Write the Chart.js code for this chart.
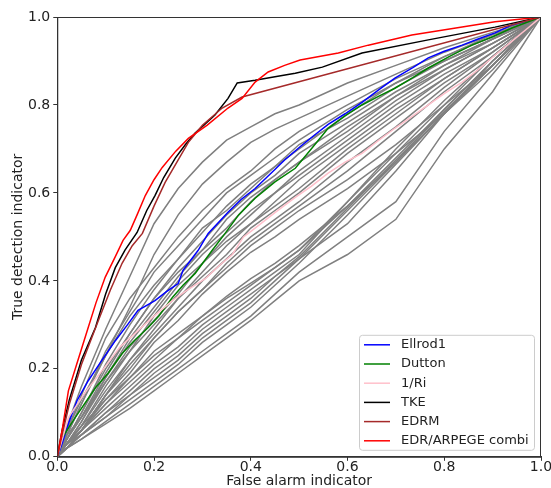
<!DOCTYPE html>
<html>
<head>
<meta charset="utf-8">
<script src="https://cdn.jsdelivr.net/npm/chart.js@4.4.1/dist/chart.umd.min.js"></script>
<style>
  body { margin: 0; background: #fff; }
  #wrap { width: 551px; height: 488px; }
</style>
</head>
<body>
<div id="wrap"><canvas id="roc" width="551" height="488"></canvas></div>
<script>
// false alarm grid shared by the grey curves
const fpr = [0, 0.02, 0.05, 0.1, 0.15, 0.2, 0.25, 0.3, 0.35, 0.4, 0.45, 0.5, 0.6, 0.7, 0.8, 0.9, 1];

// grey curves (true detection values on the fpr grid)
const greyA1 = [0, 0.07, 0.16, 0.29, 0.41, 0.53, 0.61, 0.67, 0.72, 0.75, 0.78, 0.80, 0.85, 0.89, 0.93, 0.965, 1];
const greyA2 = [0, 0.05, 0.12, 0.23, 0.34, 0.46, 0.55, 0.62, 0.67, 0.715, 0.745, 0.77, 0.82, 0.87, 0.92, 0.96, 1];
const greyB1 = [0, 0.06, 0.14, 0.27, 0.36, 0.43, 0.50, 0.56, 0.61, 0.65, 0.70, 0.74, 0.80, 0.86, 0.91, 0.96, 1];
const greyB2 = [0, 0.05, 0.12, 0.24, 0.33, 0.42, 0.48, 0.54, 0.60, 0.64, 0.68, 0.72, 0.79, 0.85, 0.91, 0.955, 1];
const greyB3 = [0, 0.06, 0.13, 0.23, 0.32, 0.39, 0.45, 0.51, 0.57, 0.62, 0.66, 0.70, 0.78, 0.85, 0.90, 0.95, 1];
const greyB4 = [0, 0.04, 0.10, 0.21, 0.30, 0.38, 0.45, 0.52, 0.56, 0.61, 0.66, 0.71, 0.77, 0.84, 0.90, 0.95, 1];
const greyB5 = [0, 0.04, 0.10, 0.20, 0.28, 0.36, 0.43, 0.49, 0.55, 0.60, 0.64, 0.69, 0.76, 0.83, 0.89, 0.95, 1];
const greyB6 = [0, 0.05, 0.09, 0.19, 0.28, 0.36, 0.42, 0.47, 0.54, 0.59, 0.63, 0.67, 0.75, 0.82, 0.89, 0.94, 1];
const greyB7 = [0, 0.04, 0.09, 0.18, 0.27, 0.34, 0.41, 0.47, 0.52, 0.58, 0.63, 0.67, 0.74, 0.82, 0.88, 0.94, 1];
const greyB8 = [0, 0.03, 0.08, 0.18, 0.26, 0.33, 0.40, 0.46, 0.51, 0.56, 0.60, 0.65, 0.73, 0.81, 0.88, 0.94, 1];
const greyB9 = [0, 0.03, 0.08, 0.17, 0.24, 0.32, 0.39, 0.44, 0.50, 0.55, 0.60, 0.64, 0.72, 0.80, 0.87, 0.93, 1];
const greyB10 = [0, 0.04, 0.09, 0.17, 0.25, 0.31, 0.37, 0.44, 0.49, 0.53, 0.58, 0.63, 0.71, 0.79, 0.86, 0.93, 1];
const greyB11 = [0, 0.03, 0.07, 0.16, 0.24, 0.30, 0.36, 0.42, 0.48, 0.53, 0.57, 0.61, 0.70, 0.78, 0.86, 0.93, 1];
const greyB12 = [0, 0.02, 0.06, 0.14, 0.22, 0.29, 0.36, 0.41, 0.46, 0.52, 0.56, 0.60, 0.69, 0.77, 0.85, 0.92, 1];
const greyB13 = [0, 0.03, 0.07, 0.15, 0.22, 0.28, 0.34, 0.40, 0.45, 0.50, 0.54, 0.58, 0.67, 0.75, 0.84, 0.92, 1];
const greyB14 = [0, 0.03, 0.06, 0.14, 0.21, 0.27, 0.33, 0.38, 0.44, 0.49, 0.53, 0.57, 0.65, 0.74, 0.83, 0.91, 1];
const greyB15 = [0, 0.03, 0.06, 0.14, 0.20, 0.27, 0.33, 0.38, 0.43, 0.48, 0.52, 0.56, 0.63, 0.71, 0.80, 0.89, 1];
const greyB16 = [0, 0.02, 0.06, 0.13, 0.19, 0.26, 0.31, 0.37, 0.42, 0.465, 0.50, 0.54, 0.61, 0.69, 0.78, 0.88, 1];
const greyC1 = [0, 0.02, 0.04, 0.075, 0.11, 0.15, 0.19, 0.23, 0.27, 0.31, 0.355, 0.40, 0.46, 0.54, 0.70, 0.83, 1];
const greyC2 = [0, 0.02, 0.04, 0.08, 0.12, 0.16, 0.20, 0.24, 0.28, 0.32, 0.37, 0.42, 0.50, 0.58, 0.74, 0.87, 1];
const greyC3 = [0, 0.02, 0.05, 0.09, 0.13, 0.17, 0.21, 0.26, 0.30, 0.34, 0.39, 0.44, 0.55, 0.665, 0.78, 0.89, 1];
const greyC4 = [0, 0.02, 0.05, 0.09, 0.14, 0.18, 0.22, 0.27, 0.31, 0.35, 0.40, 0.45, 0.56, 0.67, 0.78, 0.89, 1];
const greyC5 = [0, 0.02, 0.05, 0.10, 0.14, 0.19, 0.23, 0.28, 0.32, 0.36, 0.41, 0.455, 0.565, 0.675, 0.785, 0.89, 1];
const greyC6 = [0, 0.03, 0.05, 0.10, 0.15, 0.20, 0.24, 0.29, 0.33, 0.37, 0.41, 0.45, 0.53, 0.65, 0.78, 0.90, 1];
const greyC7 = [0, 0.03, 0.06, 0.11, 0.16, 0.21, 0.25, 0.30, 0.34, 0.38, 0.42, 0.46, 0.58, 0.69, 0.80, 0.91, 1];
const greyC8 = [0, 0.03, 0.06, 0.12, 0.17, 0.22, 0.27, 0.31, 0.35, 0.39, 0.43, 0.47, 0.57, 0.68, 0.79, 0.90, 1];
const greyC9 = [0, 0.03, 0.06, 0.12, 0.18, 0.23, 0.27, 0.32, 0.36, 0.395, 0.43, 0.47, 0.58, 0.70, 0.81, 0.91, 1];
const greyC10 = [0, 0.03, 0.07, 0.13, 0.18, 0.24, 0.28, 0.32, 0.365, 0.405, 0.44, 0.48, 0.57, 0.67, 0.79, 0.90, 1];

const greyCurves = [greyA1, greyA2, greyB1, greyB2, greyB3, greyB4, greyB5, greyB6, greyB7, greyB8,
  greyB9, greyB10, greyB11, greyB12, greyB13, greyB14, greyB15, greyB16,
  greyC1, greyC2, greyC3, greyC4, greyC5, greyC6, greyC7, greyC8, greyC9, greyC10];

// named curves: [false alarm, true detection]
const ellrod1 = [[0,0],[0.01,0.03],[0.023,0.075],[0.041,0.128],[0.064,0.173],[0.089,0.214],[0.12,0.264],[0.145,0.30],
  [0.167,0.333],[0.202,0.355],[0.225,0.375],[0.25,0.394],[0.26,0.424],[0.291,0.469],[0.312,0.508],[0.353,0.556],
  [0.38,0.585],[0.409,0.61],[0.444,0.647],[0.47,0.675],[0.502,0.705],[0.53,0.73],[0.56,0.756],[0.595,0.78],
  [0.63,0.806],[0.665,0.835],[0.698,0.861],[0.735,0.885],[0.767,0.907],[0.8,0.922],[0.837,0.936],[0.87,0.95],
  [0.905,0.964],[0.94,0.982],[1,1]];
const dutton = [[0,0],[0.01,0.043],[0.037,0.089],[0.079,0.157],[0.105,0.19],[0.134,0.235],[0.16,0.265],[0.188,0.294],
  [0.21,0.32],[0.238,0.362],[0.26,0.39],[0.285,0.417],[0.32,0.469],[0.347,0.508],[0.375,0.55],[0.409,0.588],
  [0.45,0.625],[0.492,0.656],[0.525,0.70],[0.56,0.747],[0.595,0.775],[0.63,0.80],[0.665,0.82],[0.698,0.838],
  [0.735,0.862],[0.767,0.884],[0.81,0.91],[0.857,0.936],[0.9,0.955],[0.94,0.975],[1,1]];
const invRi = [[0,0],[0.023,0.089],[0.06,0.15],[0.099,0.205],[0.13,0.25],[0.167,0.287],[0.2,0.32],[0.238,0.355],
  [0.27,0.38],[0.306,0.405],[0.335,0.435],[0.362,0.46],[0.385,0.50],[0.403,0.515],[0.45,0.555],[0.492,0.59],
  [0.525,0.615],[0.56,0.645],[0.595,0.67],[0.63,0.69],[0.665,0.72],[0.698,0.747],[0.735,0.775],[0.767,0.80],
  [0.8,0.826],[0.837,0.852],[0.87,0.88],[0.905,0.913],[0.94,0.945],[0.973,0.975],[1,1]];
const tke = [[0,0],[0.01,0.06],[0.025,0.13],[0.05,0.22],[0.079,0.294],[0.1,0.37],[0.12,0.43],[0.14,0.47],[0.165,0.51],
  [0.185,0.56],[0.202,0.594],[0.22,0.635],[0.244,0.679],[0.265,0.71],[0.285,0.736],[0.326,0.777],[0.353,0.815],
  [0.372,0.85],[0.409,0.856],[0.45,0.864],[0.492,0.872],[0.548,0.886],[0.63,0.918],[0.767,0.948],[0.905,0.977],[1,1]];
const edrm = [[0,0],[0.01,0.05],[0.025,0.12],[0.05,0.21],[0.085,0.31],[0.11,0.38],[0.134,0.44],[0.155,0.48],
  [0.176,0.508],[0.2,0.57],[0.223,0.624],[0.25,0.675],[0.271,0.715],[0.3,0.754],[0.341,0.793],[0.382,0.818],[1,1]];
const edrCombi = [[0,0],[0.01,0.06],[0.023,0.15],[0.04,0.21],[0.064,0.294],[0.08,0.35],[0.099,0.408],[0.12,0.455],
  [0.136,0.492],[0.151,0.515],[0.165,0.55],[0.182,0.594],[0.2,0.63],[0.217,0.658],[0.245,0.695],[0.271,0.724],
  [0.31,0.754],[0.353,0.793],[0.382,0.815],[0.409,0.852],[0.436,0.875],[0.47,0.89],[0.502,0.902],[0.581,0.918],
  [0.643,0.936],[0.733,0.959],[0.837,0.977],[0.905,0.989],[1,1]];

const seriesNames = ['Ellrod1', 'Dutton', '1/Ri', 'TKE', 'EDRM', 'EDR/ARPEGE combi'];
const seriesColors = ['#0000ff', '#008000', '#ffc0cb', '#000000', '#a52a2a', '#ff0000'];
const seriesData = [ellrod1, dutton, invRi, tke, edrm, edrCombi];

const xTicks = [0, 0.2, 0.4, 0.6, 0.8, 1.0];

const font = "'DejaVu Sans', sans-serif";

// first dataset is drawn on top, so named curves go first (last plotted on top)
const datasets = [];
for (let i = seriesNames.length - 1; i >= 0; i--) {
  datasets.push({
    label: seriesNames[i],
    data: seriesData[i].map(p => ({x: p[0], y: p[1]})),
    borderColor: seriesColors[i],
    borderWidth: 1.5
  });
}
greyCurves.forEach(ys => {
  datasets.push({
    label: '',
    data: ys.map((y, i) => ({x: fpr[i], y: y})),
    borderColor: '#808080',
    borderWidth: 1.5
  });
});

// frame + legend box like matplotlib
const framePlugin = {
  id: 'frame',
  afterDraw(chart) {
    const c = chart.ctx, a = chart.chartArea;
    c.save();
    c.strokeStyle = '#333';
    c.lineWidth = 1;
    c.strokeRect(a.left + 0.5, a.top + 0.5, a.right - a.left - 1, a.bottom - a.top);

    const w = 175, h = 115;
    const x0 = a.right - 7 - w, y0 = a.bottom - 7 - h;
    c.beginPath();
    c.roundRect(x0 + 0.5, y0 + 0.5, w, h, 3);
    c.fillStyle = 'rgba(255,255,255,0.85)';
    c.fill();
    c.strokeStyle = '#cccccc';
    c.stroke();

    c.font = '13px ' + font;
    c.textBaseline = 'middle';
    seriesNames.forEach((name, i) => {
      const y = y0 + 10 + i * 19.2;
      c.beginPath();
      c.moveTo(x0 + 5, y);
      c.lineTo(x0 + 31, y);
      c.strokeStyle = seriesColors[i];
      c.lineWidth = 1.5;
      c.stroke();
      c.fillStyle = '#222';
      c.fillText(name, x0 + 42, y);
    });
    c.restore();
  }
};

const axisTicks = {
  font: {family: font, size: 14, lineHeight: 0.8},
  color: '#222',
  padding: 0,
  callback: v => Number(v).toFixed(1)
};

new Chart(document.getElementById('roc'), {
  type: 'scatter',
  data: {datasets: datasets},
  options: {
    responsive: false,
    devicePixelRatio: 1,
    animation: false,
    showLine: true,
    elements: {
      point: {radius: 0, hoverRadius: 0},
      line: {tension: 0, fill: false}
    },
    layout: {padding: {top: 17, right: 0, bottom: 0, left: 0}},
    scales: {
      x: {
        type: 'linear',
        min: 0,
        max: 1,
        afterBuildTicks: axis => { axis.ticks = xTicks.map(v => ({value: v})); },
        afterFit: axis => { axis.paddingRight = 10; axis.paddingLeft = 0; },
        ticks: {...axisTicks, padding: 1},
        grid: {display: true, drawOnChartArea: false, drawTicks: true, tickLength: 4, color: '#333'},
        border: {display: true, color: '#333'},
        title: {display: true, text: 'False alarm indicator', font: {family: font, size: 14, lineHeight: 1}, color: '#222', padding: {top: 0, bottom: 0}}
      },
      y: {
        type: 'linear',
        min: 0,
        max: 1,
        afterBuildTicks: axis => { axis.ticks = xTicks.map(v => ({value: v})); },
        ticks: {...axisTicks, padding: 3},
        grid: {display: true, drawOnChartArea: false, drawTicks: true, tickLength: 4, color: '#333'},
        border: {display: true, color: '#333'},
        title: {display: true, text: 'True detection indicator', font: {family: font, size: 14, lineHeight: 1}, color: '#222', padding: {top: 11, bottom: 0}}
      }
    },
    plugins: {
      legend: {display: false},
      tooltip: {enabled: false}
    }
  },
  plugins: [framePlugin]
});
</script>
</body>
</html>
